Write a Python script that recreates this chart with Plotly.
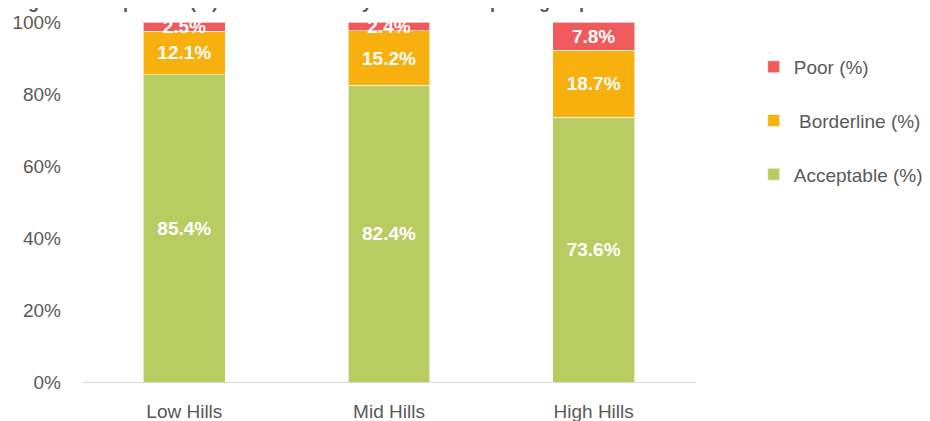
import plotly.graph_objects as go

categories = ["Low Hills", "Mid Hills", "High Hills"]
acceptable = [85.4, 82.4, 73.6]
borderline = [12.1, 15.2, 18.7]
poor = [2.5, 2.4, 7.8]
series_names = ["Acceptable (%)", " Borderline (%)", "Poor (%)"]
series_colors = ["#B9CC62", "#F8B00E", "#EF5A5C"]
legend_ranks = [3, 2, 1]
title_text = "Figure 4: Proportion (%) of households by food consumption group and hill zone"

FONT = "Liberation Sans, Arial"

fig = go.Figure()
for name, vals, col, rk in zip(series_names, [acceptable, borderline, poor], series_colors, legend_ranks):
    fig.add_trace(go.Bar(
        x=categories, y=vals, name=name, legendgroup=name, legendrank=rk,
        marker=dict(color=col, line=dict(color="rgba(255,255,255,0.6)", width=1)),
        text=[f"{v:.1f}%" for v in vals],
        textposition="inside", insidetextanchor="middle",
        textfont=dict(color="white", size=19, family=FONT, weight="bold"),
        width=0.4,
    ))

fig.update_layout(
    barmode="stack", barnorm="percent",
    width=922, height=413,
    margin=dict(l=74, r=234, t=14, b=39, autoexpand=False),
    plot_bgcolor="white", paper_bgcolor="white",
    font=dict(family=FONT, size=19, color="#595959"),
    uniformtext=dict(minsize=19, mode="show"),
    showlegend=True,
    legend=dict(
        traceorder="grouped", tracegroupgap=26,
        x=1.094, xanchor="left", y=0.928, yanchor="top",
        font=dict(size=19, color="#595959", family=FONT),
        itemwidth=30,
    ),
    xaxis=dict(
        automargin=False,
        showline=True, linecolor="#D9D9D9", linewidth=1,
        ticks="", showgrid=False, ticklabelstandoff=12,
        tickfont=dict(size=19, color="#595959"),
    ),
    yaxis=dict(
        automargin=False,
        range=[0, 100], dtick=20, ticksuffix="%",
        showgrid=False, showline=False, zeroline=False, ticks="",
        ticklabelstandoff=20,
        tickfont=dict(size=19, color="#595959"),
    ),
    annotations=[dict(
        text=title_text, xref="paper", yref="paper",
        x=-0.117, y=1.023, xanchor="left", yanchor="bottom",
        showarrow=False,
        font=dict(size=18, color="#595959", family=FONT, weight="bold"),
    )],
)

fig.write_html("out.html")
